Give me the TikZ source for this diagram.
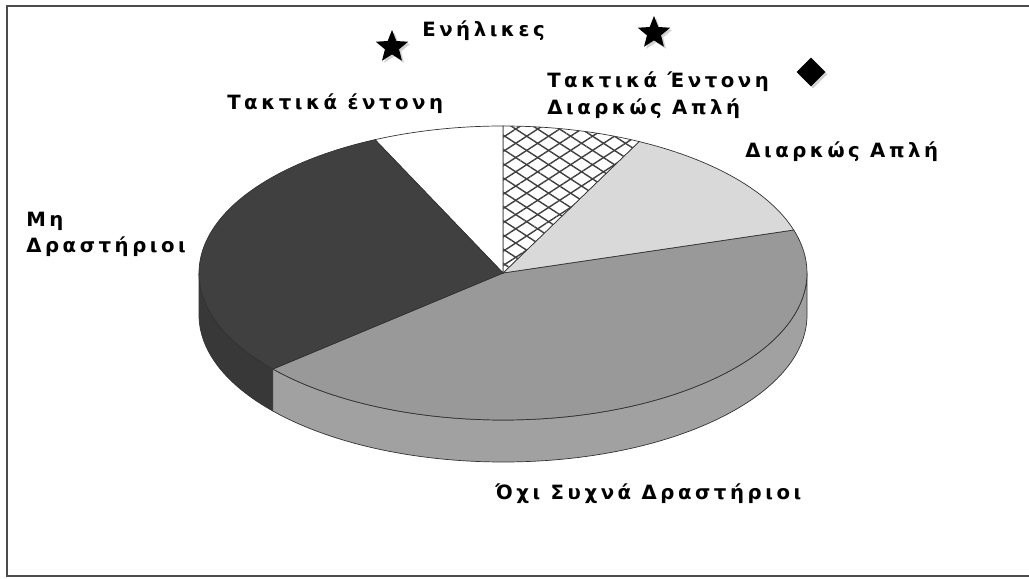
\documentclass[tikz,border=0pt]{standalone}
\usepackage{fontspec}
\newfontfamily\lblfont[LetterSpace=18]{DejaVu Sans}
\usetikzlibrary{shapes.geometric,shadows,patterns.meta}

\begin{document}
\begin{tikzpicture}[x=0.025cm,y=0.025cm,
	slice/.style={draw=black!80, line width=0.5pt},
	lbl/.style={anchor=base west, inner sep=0pt, font=\lblfont\bfseries\fontsize{14}{17}\selectfont},
	starmark/.style={star, star points=5, star point ratio=2.3, fill=black, minimum size=0.85cm, inner sep=0pt, drop shadow={shadow xshift=1.5pt, shadow yshift=-1.5pt, fill=black!35}}]
	\useasboundingbox (0,0) rectangle (1029,578);
	% frame
	\draw[line width=2pt, black!70] (1040,572) -- (7,572) -- (7,2) -- (1040,2);
	\begin{scope}[shift={(503,305)}]
		% sides of the pie
		\filldraw[slice, fill=black!78] (180:304 and 147) arc[start angle=180, end angle=220.8, x radius=304, y radius=147] -- ++(0,-42) arc[start angle=220.8, end angle=180, x radius=304, y radius=147] -- cycle;
		\filldraw[slice, fill=black!37] (220.8:304 and 147) arc[start angle=220.8, end angle=360, x radius=304, y radius=147] -- ++(0,-42) arc[start angle=360, end angle=220.8, x radius=304, y radius=147] -- cycle;
		% top of the pie
		\filldraw[slice, fill=black!40] (0,0) -- (-139.2:304 and 147) arc[start angle=-139.2, end angle=17, x radius=304, y radius=147] -- cycle;
		\filldraw[slice, fill=black!15] (0,0) -- (17:304 and 147) arc[start angle=17, end angle=63.4, x radius=304, y radius=147] -- cycle;
		\path[slice, fill=white, postaction={pattern={Lines[angle=33, distance=8.5pt, line width=1pt]}, pattern color=black!75}, postaction={pattern={Lines[angle=-33, distance=8.5pt, line width=1pt]}, pattern color=black!75}] (0,0) -- (63.4:304 and 147) arc[start angle=63.4, end angle=90, x radius=304, y radius=147] -- cycle;
		\filldraw[slice, fill=white] (0,0) -- (90:304 and 147) arc[start angle=90, end angle=114.9, x radius=304, y radius=147] -- cycle;
		\filldraw[slice, fill=black!75] (0,0) -- (114.9:304 and 147) arc[start angle=114.9, end angle=220.8, x radius=304, y radius=147] -- cycle;
	\end{scope}
	% legend marks
	\node[starmark] (star1) at (392,531) {};
	\node[starmark] (star2) at (654,545) {};
	\node[diamond, fill=black, minimum size=0.72cm, inner sep=0pt, drop shadow={shadow xshift=1.5pt, shadow yshift=-1.5pt, fill=black!35}] (diam) at (811,506) {};
	% labels
	\node[lbl] (adults) at (422,541) {Ενήλικες};
	\node[lbl] (regint) at (547,490) {Τακτικά Έντονη};
	\node[lbl] (regcont) at (547,463) {Διαρκώς Απλή};
	\node[lbl] (intense) at (227,468) {Τακτικά έντονη};
	\node[lbl] (light) at (745,420) {Διαρκώς Απλή};
	\node[lbl] (inact1) at (26,351) {Μη};
	\node[lbl] (inact2) at (26,325) {Δραστήριοι};
	\node[lbl] (seldom) at (495,79) {Όχι Συχνά Δραστήριοι};
\end{tikzpicture}
\end{document}
